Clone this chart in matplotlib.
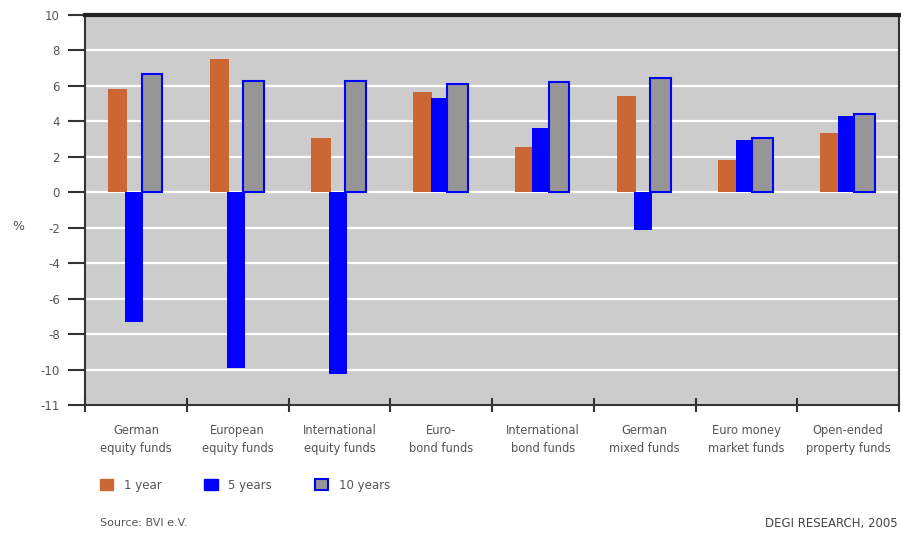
"""Fund class performance bar chart (annual returns over 1, 5 and 10 years)."""

import matplotlib.pyplot as plt
import numpy as np
from matplotlib.patches import Patch

categories = [
    "German\nequity funds",
    "European\nequity funds",
    "International\nequity funds",
    "Euro-\nbond funds",
    "International\nbond funds",
    "German\nmixed funds",
    "Euro money\nmarket funds",
    "Open-ended\nproperty funds",
]
one_year = [5.8, 7.5, 3.05, 5.67, 2.53, 5.45, 1.84, 3.33]
five_years = [-7.32, -9.9, -10.23, 5.34, 3.65, -2.15, 2.96, 4.33]
ten_years = [6.68, 6.3, 6.3, 6.08, 6.2, 6.42, 3.05, 4.4]

ytick_values = [10, 8, 6, 4, 2, 0, -2, -4, -6, -8, -10, -12]
ytick_labels = ["10", "8", "6", "4", "2", "0", "-2", "-4", "-6", "-8", "-10", "-11"]

ORANGE = "#cc6633"
BLUE = "#0000ff"
GREY = "#969696"
TEXT = "#555555"
AXIS = "#333333"

fig = plt.figure(figsize=(9.01, 5.33), dpi=100)
ax = fig.add_axes([85 / 901, 1 - 405 / 533, 814 / 901, 390 / 533])
ax.set_facecolor("#cccccc")

x = np.arange(len(categories))
ax.bar(x - 0.18, one_year, width=0.19, color=ORANGE, zorder=3)
ax.bar(x - 0.015, five_years, width=0.175, color=BLUE, zorder=4)
ax.bar(x + 0.158, ten_years, width=0.205, color=GREY, edgecolor=BLUE,
       linewidth=1.5, zorder=5)

ax.set_xlim(-0.5, len(categories) - 0.5)
ax.set_ylim(-12, 10)

# white horizontal grid
for v in ytick_values[1:-1]:
    ax.axhline(v, color="white", linewidth=1.6, zorder=1)

ax.set_yticks(ytick_values)
ax.set_yticklabels(ytick_labels)
ax.tick_params(axis="y", direction="out", length=12, width=1.5, color=AXIS,
               labelsize=8.5, labelcolor=TEXT, pad=6)

# category boundaries as ticks, names centred between them
ax.set_xticks(np.arange(-0.5, len(categories), 1.0))
ax.set_xticklabels([])
ax.set_xticks(x, minor=True)
ax.set_xticklabels(categories, minor=True, fontsize=8.3, color=TEXT,
                   linespacing=1.45)
ax.tick_params(axis="x", which="major", direction="inout", length=10,
               width=1.5, color=AXIS)
ax.tick_params(axis="x", which="minor", length=0, pad=14)

for side in ["left", "right", "bottom"]:
    ax.spines[side].set_color(AXIS)
    ax.spines[side].set_linewidth(1.5)
ax.spines["top"].set_color("#222222")
ax.spines["top"].set_linewidth(3)

fig.text(18 / 901, 1 - 226 / 533, "%", fontsize=9, color=TEXT,
         ha="center", va="center")

handles = [
    Patch(facecolor=ORANGE, edgecolor=ORANGE, label="1 year"),
    Patch(facecolor=BLUE, edgecolor=BLUE, label="5 years"),
    Patch(facecolor=GREY, edgecolor=BLUE, linewidth=1.5, label="10 years"),
]
fig.legend(handles=handles, loc="center left",
           bbox_to_anchor=(89 / 901, 1 - 485 / 533), ncol=3, frameon=False,
           fontsize=8.5, handlelength=1.15, handleheight=1.15,
           columnspacing=3.6, handletextpad=0.9, labelcolor=TEXT)

fig.text(100 / 901, 1 - 523 / 533, "Source: BVI e.V.", fontsize=8,
         color=TEXT, ha="left", va="center")
fig.text(898 / 901, 1 - 523 / 533, "DEGI RESEARCH, 2005", fontsize=8.5,
         color="#444444", ha="right", va="center")

fig.savefig("out.png", dpi=100)
